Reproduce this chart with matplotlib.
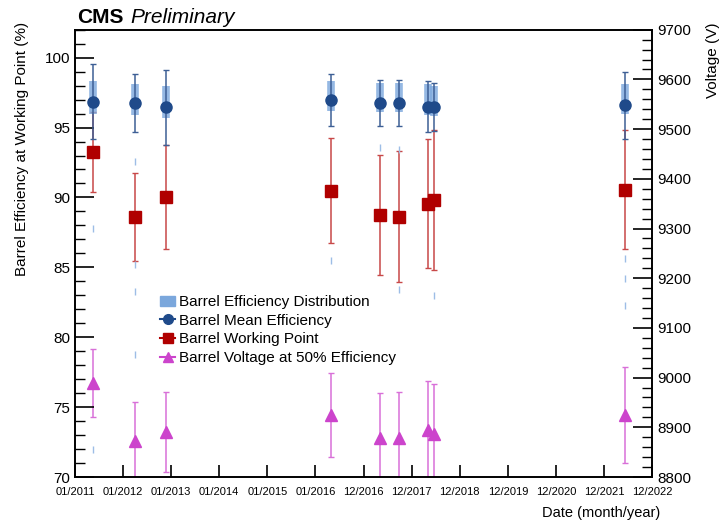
import matplotlib.pyplot as plt
from matplotlib.lines import Line2D
from matplotlib.patches import Patch
from matplotlib.ticker import MultipleLocator

plt.rcParams['font.family'] = ['Liberation Sans', 'DejaVu Sans']

# x axis: one slot per tick label, points placed by date within the slots
tick_labels = ["01/2011", "01/2012", "01/2013", "01/2014", "01/2015", "01/2016",
               "12/2016", "12/2017", "12/2018", "12/2019", "12/2020", "12/2021", "12/2022"]
run_pos = [0.37, 1.24, 1.90, 5.33, 6.34, 6.74, 7.33, 7.46, 11.43]

# efficiency (%)
mean_eff = [96.86, 96.74, 96.45, 96.97, 96.76, 96.76, 96.50, 96.45, 96.58]
mean_err = [2.69, 2.07, 2.67, 1.88, 1.63, 1.65, 1.80, 1.72, 2.38]
dist_lo = [96.0, 95.9, 95.7, 96.2, 96.1, 96.1, 95.9, 95.8, 96.0]
dist_hi = [98.3, 98.1, 98.0, 98.3, 98.2, 98.2, 98.1, 98.0, 98.1]
dist_tails = [[87.8, 72.0], [92.6, 85.2, 83.3, 78.8], [], [85.5], [93.6],
              [93.4, 83.4], [], [83.0], [85.6, 84.2, 82.3]]

# voltages (V)
wp_volt = [9454, 9323, 9363, 9376, 9327, 9324, 9350, 9357, 9378]
wp_err = [80, 88, 105, 106, 120, 132, 130, 141, 120]
v50_volt = [8989, 8872, 8891, 8925, 8879, 8879, 8895, 8887, 8925]
v50_err = [68, 79, 80, 84, 91, 93, 99, 100, 96]

fig = plt.figure(figsize=(7.2, 5.25), dpi=100)
ax = fig.add_axes([0.104, 0.0914, 0.802, 0.852])
ax2 = ax.twinx()

# voltage series on the right axis
ax2.errorbar(run_pos, wp_volt, yerr=wp_err, fmt='s', color='#b00000', ms=8.5,
             ecolor='#c84848', elinewidth=1.1, capsize=2.5, capthick=1)
ax2.errorbar(run_pos, v50_volt, yerr=v50_err, fmt='^', color='#cc44cc', ms=8,
             ecolor='#d870d8', elinewidth=1.1, capsize=2.5, capthick=1)

# efficiency distribution + mean on the left axis
ax.vlines(run_pos, dist_lo, dist_hi, color='#7ba7dc', lw=5.5, alpha=0.8)
for x, tails in zip(run_pos, dist_tails):
    for t in tails:
        ax.vlines(x, t - 0.25, t + 0.25, color='#9dbde6', lw=1)
ax.errorbar(run_pos, mean_eff, yerr=mean_err, fmt='o', color='#1f4a8a', ms=8,
            ecolor='#3d5f95', elinewidth=1.1, capsize=2.5, capthick=1)

ax.set_zorder(ax2.get_zorder() + 1)
ax.patch.set_visible(False)

ax.set_xlim(0, 12)
ax.set_ylim(70, 102)
ax2.set_ylim(8800, 9700)
ax.set_xticks(range(len(tick_labels)))
ax.set_xticklabels(tick_labels, fontsize=8)
ax.set_yticks([70, 75, 80, 85, 90, 95, 100])
ax.yaxis.set_minor_locator(MultipleLocator(1))
ax2.set_yticks(range(8800, 9701, 100))
ax2.yaxis.set_minor_locator(MultipleLocator(20))

ax.tick_params(axis='y', which='major', direction='in', length=14, width=1.2, labelsize=11)
ax.tick_params(axis='y', which='minor', direction='in', length=7, width=1)
ax.tick_params(axis='x', direction='in', length=9, width=1.2, pad=7)
ax2.tick_params(axis='y', which='major', direction='in', length=14, width=1.2, labelsize=11)
ax2.tick_params(axis='y', which='minor', direction='in', length=7, width=1)
for a in (ax, ax2):
    for s in a.spines.values():
        s.set_linewidth(1.2)

fig.text(0.031, 0.958, "Barrel Efficiency at Working Point (%)", rotation=90,
         ha='center', va='top', fontsize=11)
fig.text(0.99, 0.958, "Voltage (V)", rotation=90, ha='center', va='top', fontsize=11)
fig.text(0.917, 0.022, "Date (month/year)", ha='right', va='center', fontsize=10.5)
fig.text(0.107, 0.956, "CMS", fontsize=15, fontweight='bold', va='baseline')
fig.text(0.181, 0.956, "Preliminary", fontsize=15, style='italic', va='baseline')

handles = [
    Patch(facecolor='#7ba7dc', edgecolor='#7ba7dc'),
    Line2D([], [], color='#1f4a8a', marker='o', ms=7),
    Line2D([], [], color='#b00000', marker='s', ms=7),
    Line2D([], [], color='#cc44cc', marker='^', ms=7),
]
labels = ["Barrel Efficiency Distribution", "Barrel Mean Efficiency",
          "Barrel Working Point", "Barrel Voltage at 50% Efficiency"]
ax.legend(handles, labels, loc='upper left', bbox_to_anchor=(0.137, 0.42),
          frameon=False, fontsize=11, handlelength=1.0, handletextpad=0.25,
          labelspacing=0.3, borderaxespad=0)

fig.savefig("out.png", dpi=100)
